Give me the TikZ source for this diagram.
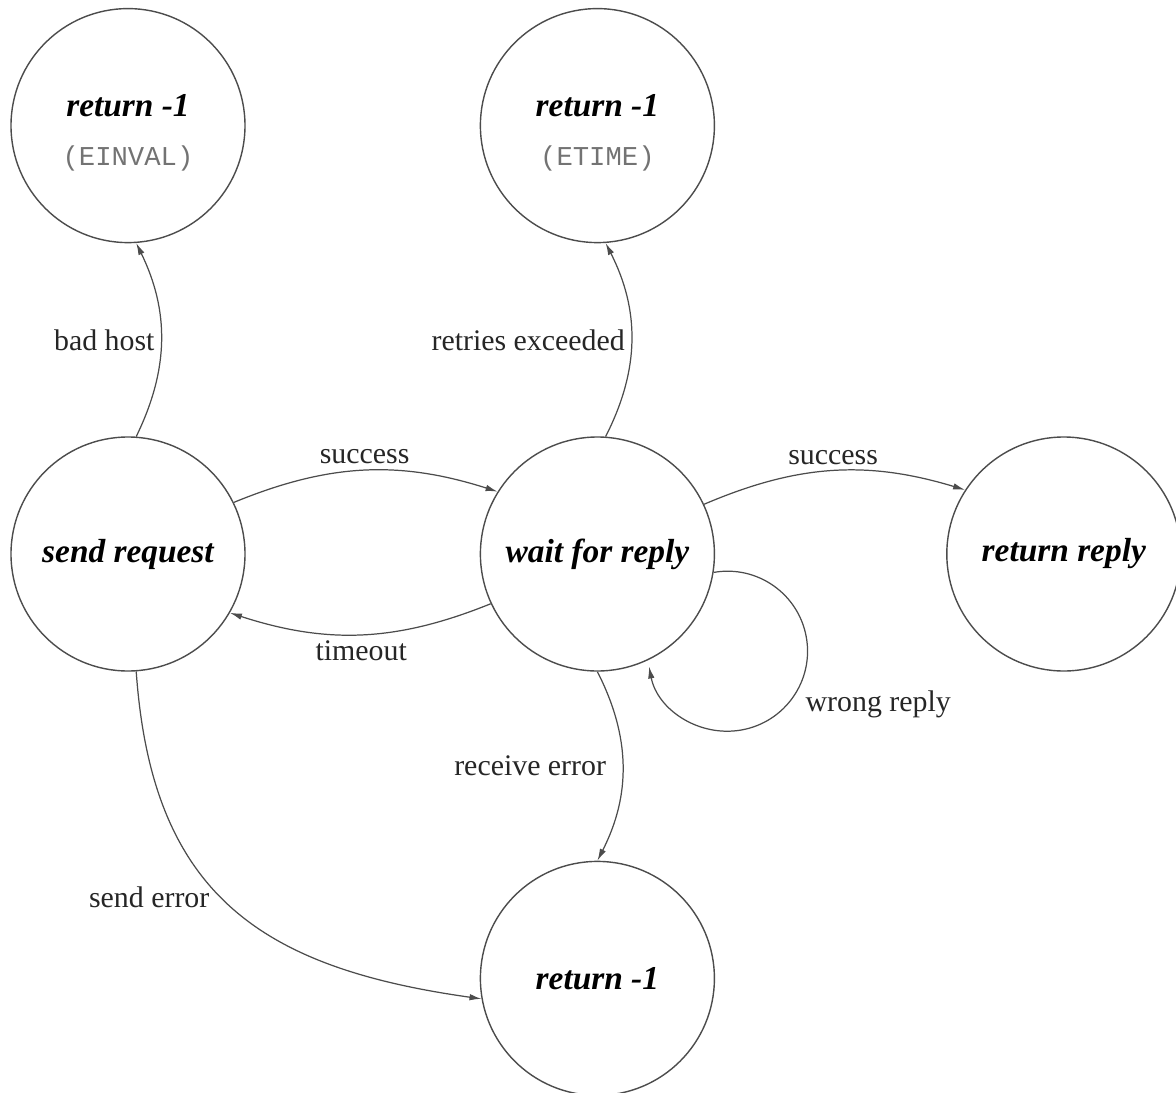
\documentclass[tikz,border=0pt]{standalone}
\usepackage{fontspec}
\setmainfont{Liberation Serif}
\setmonofont{Liberation Mono}
\usetikzlibrary{positioning,arrows.meta,calc}

\newcommand{\errcode}[1]{{\fontsize{15.5}{18}\selectfont\ttfamily\mdseries\upshape\color{black!55}#1}}

\begin{document}
\begin{tikzpicture}[
  font=\fontsize{17}{20}\selectfont,
  state/.style={draw=black!70, line width=0.8pt, circle, minimum size=4.68cm,
                inner sep=0pt, align=center,
                font=\fontsize{19}{23}\selectfont\bfseries\itshape},
  tr/.style={-{Latex[length=2.4mm,width=1.3mm]}, draw=black!70, line width=0.7pt},
  lbl/.style={text=black!85}
]
\useasboundingbox (-2.56,11.08) rectangle (20.96,-10.76);

\node[state] (send) at (0,0) {send request};
\node[state, right=4.68cm of send] (wait) {wait for reply};
\node[state, right=4.62cm of wait] (reply) {return reply};
\node[state, above=3.86cm of send] (einval) {\\[-2pt]return -1\\[5pt]\errcode{(EINVAL)}};
\node[state, above=3.86cm of wait] (etime) {\\[-2pt]return -1\\[5pt]\errcode{(ETIME)}};
\node[state, below=3.78cm of wait] (fail) {return -1};

\draw[tr] (send.86) to[bend right=26] node[left, lbl] {bad host} (einval.-86);
\draw[tr] (send.26) to[bend left=20] node[above, lbl] {success} (wait.148);
\draw[tr] (wait.205) to[bend left=20] node[below, lbl] {timeout} (send.-30);
\draw[tr] (wait.86) to[bend right=27] node[left, lbl] {retries exceeded} (etime.-86);
\draw[tr] (wait.25) to[bend left=20] node[above, lbl] {success} (reply.147);
\draw[tr] (wait.-90) to[bend left=27] node[left=0.2cm, lbl] {receive error} (fail.90);
\draw[tr] (send.-86) to[out=-86, in=172, looseness=1.2]
  node[left=0.12cm, pos=0.47, lbl] {send error} (fail.190);
\draw[tr] (wait.-9) arc[start angle=100, end angle=-169, radius=1.6cm];
\node[lbl, anchor=west] (wrong) at ($(wait.center)+(4.04,-3.0)$) {wrong reply};
\end{tikzpicture}
\end{document}
